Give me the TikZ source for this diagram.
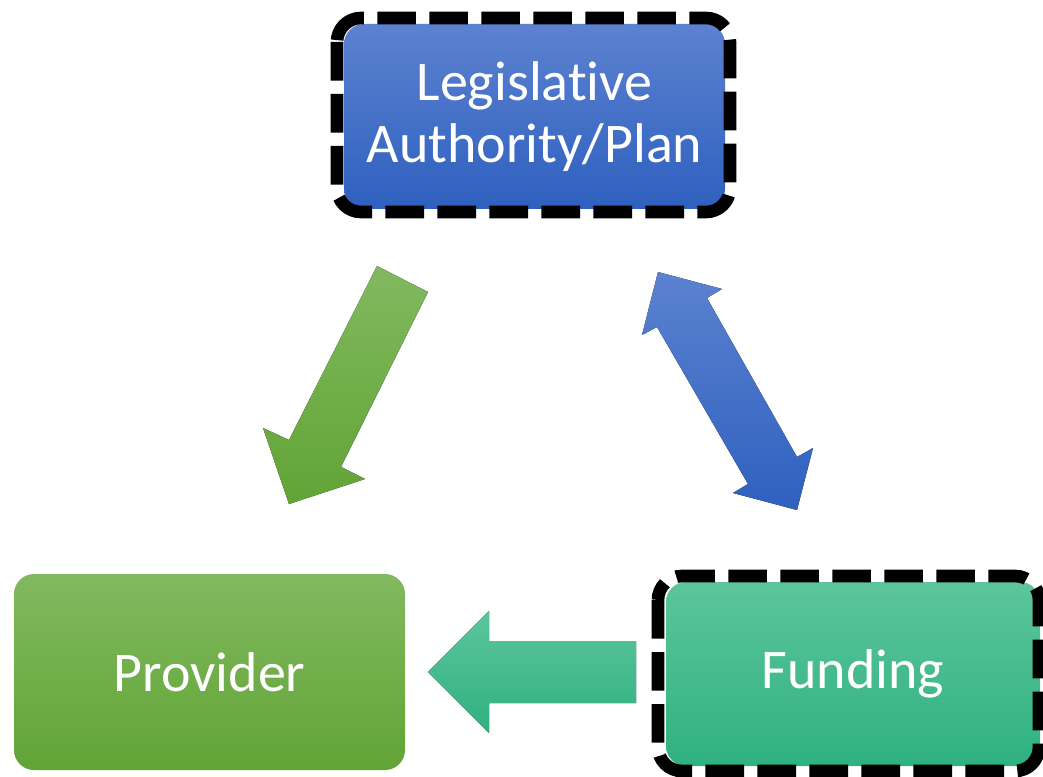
\documentclass[tikz,border=0pt]{standalone}
\usepackage{fontspec}
\setmainfont{Carlito}[RawFeature={-liga;-clig;-dlig}]
\definecolor{blueT}{RGB}{92,130,208}
\definecolor{blueB}{RGB}{46,96,191}
\definecolor{greenT}{RGB}{130,185,96}
\definecolor{greenB}{RGB}{97,164,53}
\definecolor{tealT}{RGB}{92,197,156}
\definecolor{tealB}{RGB}{47,177,128}
\begin{document}
\begin{tikzpicture}[x=0.75pt,y=-0.75pt,
  box/.style={rounded corners=15pt, inner sep=0pt, text=white, align=center,
    font=\fontsize{42}{47}\selectfont},
  dashborder/.style={draw=black, line width=9.5pt, dash pattern=on 29pt off 10pt, rounded corners=18pt},
  blockarrow/.style={draw=none}]
\useasboundingbox (0,0) rectangle (1043,777);
% boxes
\node[box, top color=blueT, bottom color=blueB, minimum width=285.75pt, minimum height=138.75pt]
  (leg) at (534.5,116.5) {Legislative\\Authority/Plan};
\draw[dashborder] (337,18) rectangle (730,212);
\node[box, top color=greenT, bottom color=greenB, minimum width=293.25pt, minimum height=147pt]
  (prov) at (209.5,672) {Provider};
\node[box, top color=tealT, bottom color=tealB, minimum width=280.5pt, minimum height=138pt]
  (fund) at (853,674) {Funding};
\draw[dashborder] (658,576) rectangle (1039,771);
% block arrows
\fill[blockarrow, top color=greenT, bottom color=greenB]
  (377,266) -- (428,292) -- (341,467) -- (365,479) -- (289,504) -- (263,428) -- (289,440) -- cycle;
\fill[blockarrow, top color=blueT, bottom color=blueB]
  (658,272) -- (722,289) -- (707,298) -- (797,457) -- (813,448) -- (797,510) -- (733,493) -- (748,484) -- (657,327) -- (642,335) -- cycle;
\fill[blockarrow, top color=tealT, bottom color=tealB]
  (428,672) -- (489,611) -- (489,641) -- (636,641) -- (636,703) -- (489,703) -- (489,733) -- cycle;
\end{tikzpicture}
\end{document}
